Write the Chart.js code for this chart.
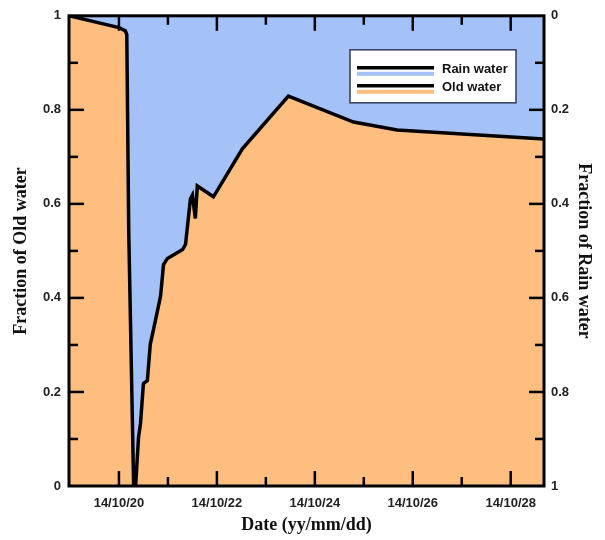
<!DOCTYPE html>
<html>
<head>
<meta charset="utf-8">
<script src="https://cdn.jsdelivr.net/npm/chart.js@4.4.0/dist/chart.umd.min.js"></script>
<style>
  body { margin: 0; background: #fff; }
</style>
</head>
<body>
<canvas id="fractionChart" width="605" height="540"></canvas>
<script>
// sample times as day of October 2014 (20.5 = 14/10/20 12:00)
const sampleDays = [18.98, 20.0, 20.13, 20.16, 20.20, 20.30, 20.34, 20.40, 20.44, 20.50, 20.58, 20.64, 20.70, 20.85, 20.91, 20.99, 21.30, 21.36, 21.46, 21.50, 21.56, 21.60, 21.93, 22.52, 23.46, 24.79, 25.68, 28.68];
const oldWater = [1.0, 0.975, 0.968, 0.96, 0.541, 0.0, 0.0, 0.104, 0.133, 0.218, 0.224, 0.302, 0.330, 0.404, 0.471, 0.484, 0.503, 0.514, 0.611, 0.619, 0.569, 0.638, 0.615, 0.717, 0.829, 0.774, 0.757, 0.738];
// rain water is the complement, read on the reversed right axis
const rainWater = oldWater.map(v => +(1 - v).toFixed(3));

const xTickDays = [20, 22, 24, 26, 28];
const xTickLabels = ['14/10/20', '14/10/22', '14/10/24', '14/10/26', '14/10/28'];

const ORANGE = '#fdbe80';
const BLUE = '#a4c1f8';

const tickFont = { family: 'Liberation Sans, Arial, sans-serif', size: 13, weight: 'bold' };
const titleFont = { family: 'Liberation Serif, Times New Roman, serif', size: 18, weight: 'bold' };

function pts(ys) {
    return sampleDays.map((d, i) => ({ x: d, y: ys[i] }));
}

// 0.2 -> "0.2", 1 -> "1"
const fracLabel = v => String(Math.round(v * 10) / 10);

// frame + inward tick marks (major and minor)
const frameTicks = {
    id: 'frameTicks',
    afterDatasetsDraw(chart) {
        const { ctx, chartArea: a, scales } = chart;
        ctx.save();
        ctx.strokeStyle = '#000';
        ctx.lineWidth = 2.5;
        const seg = (x1, y1, x2, y2) => { ctx.beginPath(); ctx.moveTo(x1, y1); ctx.lineTo(x2, y2); ctx.stroke(); };
        for (let d = 19; d <= 28; d++) {
            const x = scales.x.getPixelForValue(d);
            if (x < a.left + 3 || x > a.right - 3) continue;
            const len = d % 2 === 0 ? 15 : 9;
            seg(x, a.bottom, x, a.bottom - len);
            seg(x, a.top, x, a.top + len);
        }
        for (let i = 1; i < 10; i++) {
            const len = i % 2 === 0 ? 15 : 9;
            const y = scales.y.getPixelForValue(i / 10);
            seg(a.left, y, a.left + len, y);
            const y2 = scales.y2.getPixelForValue(i / 10);
            seg(a.right, y2, a.right - len, y2);
        }
        ctx.lineWidth = 3;
        ctx.strokeRect(a.left, a.top, a.right - a.left, a.bottom - a.top);
        ctx.restore();
    }
};

// boxed legend inside the plot, black line over a coloured band
const boxLegend = {
    id: 'boxLegend',
    afterDraw(chart) {
        const { ctx, chartArea: a } = chart;
        const bx = a.right - 194, by = a.top + 34, bw = 166, bh = 53;
        ctx.save();
        ctx.fillStyle = '#fff';
        ctx.fillRect(bx, by, bw, bh);
        ctx.strokeStyle = '#2f3b58';
        ctx.lineWidth = 1.5;
        ctx.strokeRect(bx, by, bw, bh);
        const items = [chart.data.datasets[1], chart.data.datasets[0]];
        items.forEach((ds, i) => {
            const y = by + 18 + i * 18;
            ctx.fillStyle = ds.backgroundColor;
            ctx.fillRect(bx + 7, y + 4, 77, 4);
            ctx.strokeStyle = '#000';
            ctx.lineWidth = 3.5;
            ctx.beginPath();
            ctx.moveTo(bx + 7, y);
            ctx.lineTo(bx + 84, y);
            ctx.stroke();
            ctx.fillStyle = '#111';
            ctx.font = 'bold 13px Liberation Sans, Arial, sans-serif';
            ctx.textBaseline = 'middle';
            ctx.fillText(ds.label, bx + 92, y + 2);
        });
        ctx.restore();
    }
};

new Chart(document.getElementById('fractionChart').getContext('2d'), {
    type: 'line',
    data: {
        datasets: [{
            label: 'Old water',
            data: pts(oldWater),
            yAxisID: 'y',
            borderColor: '#000',
            borderWidth: 3.5,
            backgroundColor: ORANGE,
            fill: 'start',
            pointRadius: 0,
            tension: 0,
            order: 1,
        }, {
            label: 'Rain water',
            data: pts(rainWater),
            yAxisID: 'y2',
            borderWidth: 0,
            borderColor: 'rgba(0,0,0,0)',
            backgroundColor: BLUE,
            fill: 'end',
            pointRadius: 0,
            tension: 0,
            order: 2,
        }]
    },
    options: {
        responsive: false,
        animation: false,
        devicePixelRatio: 1,
        layout: { padding: { top: 13, left: 0, right: 0, bottom: 0 } },
        plugins: { legend: { display: false }, tooltip: { enabled: false } },
        scales: {
            x: {
                type: 'linear',
                min: 18.98,
                max: 28.68,
                afterBuildTicks: s => { s.ticks = xTickDays.map(v => ({ value: v })); },
                afterFit: s => { s.height = 54; },
                grid: { display: false, drawTicks: false },
                border: { display: false },
                ticks: {
                    autoSkip: false,
                    maxRotation: 0,
                    padding: 10,
                    color: '#222',
                    font: tickFont,
                    callback: (v, i) => xTickLabels[i],
                },
                title: { display: true, text: 'Date (yy/mm/dd)', color: '#111', font: titleFont, padding: { top: 0, bottom: 4 } }
            },
            y: {
                position: 'left',
                min: 0,
                max: 1,
                afterFit: s => { s.width = 69; },
                grid: { display: false, drawTicks: false },
                border: { display: false },
                ticks: { stepSize: 0.2, padding: 8, color: '#222', font: tickFont, callback: fracLabel },
                title: { display: true, text: 'Fraction of Old water', color: '#111', font: titleFont, padding: { top: 11, bottom: 0 } }
            },
            y2: {
                position: 'right',
                reverse: true,
                min: 0,
                max: 1,
                afterFit: s => { s.width = 61; },
                grid: { display: false, drawTicks: false },
                border: { display: false },
                ticks: { stepSize: 0.2, padding: 7, color: '#222', font: tickFont, callback: fracLabel },
                title: { display: true, text: 'Fraction of Rain water', color: '#111', font: titleFont, padding: { top: 11, bottom: 0 } }
            }
        }
    },
    plugins: [frameTicks, boxLegend]
});
</script>
</body>
</html>
